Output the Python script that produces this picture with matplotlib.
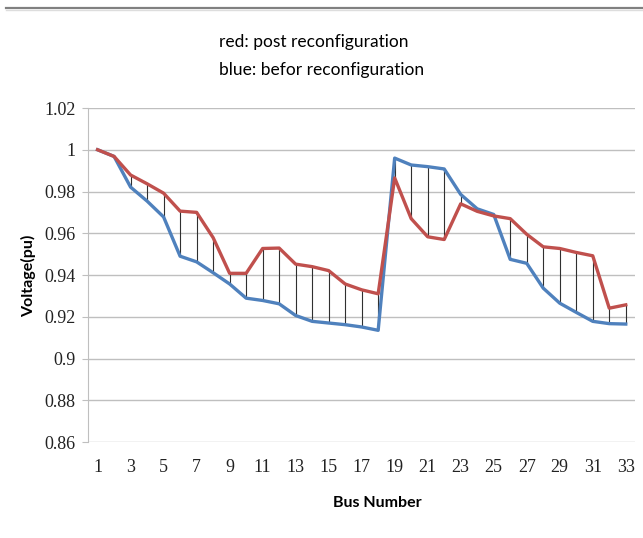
import matplotlib
matplotlib.use("Agg")
import matplotlib.pyplot as plt
from matplotlib.lines import Line2D
from matplotlib.ticker import FuncFormatter

# bus voltages
bus = list(range(1, 34))
before = [1.0, 0.9968, 0.9821, 0.9754, 0.9678, 0.9490, 0.9463, 0.9411, 0.9357, 0.9289,
          0.9278, 0.9262, 0.9206, 0.9178, 0.9170, 0.9162, 0.9151, 0.9135, 0.9960, 0.9927,
          0.9919, 0.9908, 0.9786, 0.9717, 0.9690, 0.9475, 0.9456, 0.9337, 0.9265, 0.9221,
          0.9178, 0.9167, 0.9165]
after = [1.0, 0.9968, 0.9879, 0.9837, 0.9792, 0.9706, 0.9700, 0.9579, 0.9408, 0.9408,
         0.9527, 0.9529, 0.9452, 0.9440, 0.9421, 0.9357, 0.9329, 0.9310, 0.9865, 0.9670,
         0.9583, 0.9570, 0.9741, 0.9705, 0.9683, 0.9670, 0.9595, 0.9535, 0.9527, 0.9508,
         0.9492, 0.9241, 0.9257]
yticks = [0.86, 0.88, 0.9, 0.92, 0.94, 0.96, 0.98, 1.0, 1.02]
xticks = list(range(1, 34, 2))

fig = plt.figure(figsize=(6.43, 5.38), dpi=100)
ax = fig.add_axes([88/643, 96/538, 547/643, 334/538])

# drop lines between the two series, then the series
ax.vlines(bus, before, after, colors='#303030', linewidth=0.8, zorder=2)
ax.plot(bus, before, color='#4F81BD', linewidth=2.4, zorder=3)
ax.plot(bus, after, color='#C0504D', linewidth=2.4, zorder=4)

ax.set_ylim(0.86, 1.02)
ax.set_xlim(0.42, 33.56)
ax.set_yticks(yticks)
ax.set_xticks(xticks)
ax.yaxis.set_major_formatter(FuncFormatter(lambda v, p: f"{v:g}"))
ax.grid(axis='y', color='#BFBFBF', linewidth=1.0)
ax.set_axisbelow(True)

for s in ['top', 'right', 'bottom']:
    ax.spines[s].set_visible(False)
ax.spines['left'].set_color('#BFBFBF')
ax.tick_params(axis='y', length=4, color='#BFBFBF', pad=5, labelsize=13)
ax.tick_params(axis='x', length=0, pad=12, labelsize=13)
for lab in ax.get_xticklabels() + ax.get_yticklabels():
    lab.set_fontfamily('Liberation Serif')
    lab.set_color('#222222')

fig.text(219/643, 1 - 42/538, 'red: post reconfiguration', ha='left', va='center',
         fontsize=12.5, family='Lato')
fig.text(219/643, 1 - 70/538, 'blue: befor reconfiguration', ha='left', va='center',
         fontsize=12.5, family='Lato')
fig.text(377/643, 1 - 503/538, 'Bus Number', ha='center', va='center',
         fontsize=11.5, fontweight='bold', family='Lato')
fig.text(29/643, 1 - 276/538, 'Voltage(pu)', ha='center', va='center', rotation=90,
         fontsize=11.5, fontweight='bold', family='Lato')

# picture border at top
fig.add_artist(Line2D([6/643, 1], [1 - 7.5/538] * 2, color='#808080', linewidth=1.6))
fig.add_artist(Line2D([6/643, 1], [1 - 9.5/538] * 2, color='#DDDDDD', linewidth=1.0))

fig.savefig('out.png', dpi=100)
